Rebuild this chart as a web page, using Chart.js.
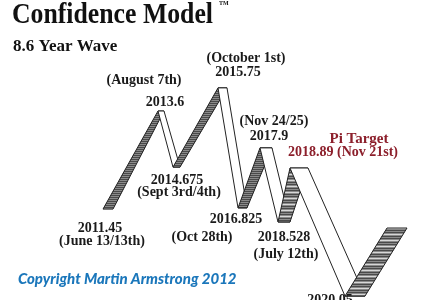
<!DOCTYPE html>
<html>
<head>
<meta charset="utf-8">
<script src="https://cdn.jsdelivr.net/npm/chart.js@4/dist/chart.umd.min.js"></script>
<style>
  html, body { margin: 0; padding: 0; background: #fff; }
  #wrap { width: 440px; height: 300px; }
</style>
</head>
<body>
<div id="wrap"><canvas id="wave"></canvas></div>
<script>
// turning points of the 8.6 year wave (schematic position, confidence level)
const turnDates = ["2011.45", "2013.6", "2014.675", "2015.75", "2016.825", "2017.9", "2018.528", "2018.89", "2020.05", ""];
const turnNotes = ["(June 13/13th)", "(August 7th)", "(Sept 3rd/4th)", "(October 1st)", "(Oct 28th)", "(Nov 24/25)", "(July 12th)", "(Nov 21st)", "", ""];
const position = [25.75, 39.5, 43.25, 54.5, 59.5, 65, 69.5, 72.5, 86.25, 96.75];
const confidence = [30.3, 63, 44.3, 70.7, 30.7, 50.7, 26, 44, 1.3, 24];

// ribbon look (pixels)
const ribbonWidth = [10, 6, 7, 9, 9, 12, 12, 18, 20, 20];

// label placement relative to each turning point: [dx, dy] for date, [dx, dy] for note
const labelPos = [
  [[-3, 23], [-1, 36]],
  [[7, -5], [-14, -27]],
  [[4, 17], [6, 29]],
  [[20, -12], [28, -26]],
  [[-2, 15], [-36, 33]],
  [[9, -8], [14, -23]],
  [[6, 19], [8, 36]],
  [[0, 0], [0, 0]],
  [[-15, 8], [0, 0]],
  [[0, 0], [0, 0]]
];

function bandPath(ctx, a, b, wa, wb) {
  ctx.beginPath();
  ctx.moveTo(a.x, a.y);
  ctx.lineTo(b.x, b.y);
  ctx.lineTo(b.x + wb, b.y);
  ctx.lineTo(a.x + wa, a.y);
  ctx.closePath();
}

const ribbonPlugin = {
  id: "ribbon",
  afterDatasetsDraw(chart) {
    const ctx = chart.ctx;
    const pts = chart.getDatasetMeta(0).data;

    // segments in order, later ones overlap earlier ones
    for (let i = 0; i < pts.length - 1; i++) {
      const a = pts[i], b = pts[i + 1];
      const wa = ribbonWidth[i], wb = ribbonWidth[i + 1];
      const rising = b.y < a.y;
      ctx.save();
      bandPath(ctx, a, b, wa, wb);
      if (rising) {
        ctx.fillStyle = "#8a8a8a";
        ctx.fill();
        ctx.save();
        ctx.clip();
        ctx.lineWidth = 1;
        for (let y = Math.floor(b.y); y < a.y; y += 2) {
          ctx.strokeStyle = (y % 6 === 0) ? "#d8d8d8" : "#4a4a4a";
          ctx.beginPath();
          ctx.moveTo(Math.min(a.x, b.x) - 5, y + 0.5);
          ctx.lineTo(Math.max(a.x, b.x) + 30, y + 0.5);
          ctx.stroke();
        }
        ctx.restore();
      } else {
        ctx.fillStyle = "#fff";
        ctx.fill();
      }
      bandPath(ctx, a, b, wa, wb);
      ctx.strokeStyle = "#222";
      ctx.lineWidth = 1;
      ctx.stroke();
      ctx.restore();
    }

    // turning point labels
    ctx.save();
    ctx.textAlign = "center";
    ctx.textBaseline = "alphabetic";
    ctx.fillStyle = "#1a1a1a";
    ctx.font = "bold 14px 'Liberation Serif', serif";
    pts.forEach((p, i) => {
      if (i === 7) return;
      const [d, n] = labelPos[i];
      if (turnDates[i]) ctx.fillText(turnDates[i], p.x + d[0], p.y + d[1]);
      if (turnNotes[i]) ctx.fillText(turnNotes[i], p.x + n[0], p.y + n[1]);
    });

    // Pi target
    const pi = pts[7];
    ctx.fillStyle = "#8c1f2b";
    ctx.font = "bold 15px 'Liberation Serif', serif";
    ctx.fillText("Pi Target", pi.x + 69, pi.y - 25);
    ctx.font = "bold 14px 'Liberation Serif', serif";
    ctx.fillText(turnDates[7] + " " + turnNotes[7], pi.x + 53, pi.y - 12);

    // title
    ctx.textAlign = "left";
    ctx.fillStyle = "#111";
    ctx.font = "bold 29px 'Liberation Serif', serif";
    const title = "Confidence Model";
    const tw = ctx.measureText(title).width;
    ctx.save();
    ctx.translate(12, 23);
    ctx.scale(201 / tw, 1);
    ctx.fillText(title, 0, 0);
    ctx.restore();
    ctx.font = "bold 6px 'Liberation Serif', serif";
    ctx.fillText("TM", 219, 5);

    ctx.font = "bold 17px 'Liberation Serif', serif";
    ctx.fillText("8.6 Year Wave", 13, 51);

    // copyright
    ctx.fillStyle = "#1b77bb";
    ctx.font = "italic 900 15px Lato, sans-serif";
    ctx.fillText("Copyright Martin Armstrong 2012", 18, 284);
    ctx.fillStyle = "#1d3f66";
    ctx.fillText("All Rights Reserved", 90, 311);
    ctx.restore();
  }
};

new Chart(document.getElementById("wave"), {
  type: "line",
  data: {
    labels: turnDates,
    datasets: [{
      data: position.map((x, i) => ({ x: x, y: confidence[i] })),
      borderColor: "rgba(0,0,0,0)",
      pointRadius: 0,
      tension: 0
    }]
  },
  options: {
    responsive: true,
    maintainAspectRatio: false,
    animation: false,
    layout: { padding: 0 },
    scales: {
      x: { type: "linear", min: 0, max: 110, display: false },
      y: { min: 0, max: 100, display: false }
    },
    plugins: {
      legend: { display: false },
      tooltip: { enabled: false }
    }
  },
  plugins: [ribbonPlugin]
});
</script>
</body>
</html>
